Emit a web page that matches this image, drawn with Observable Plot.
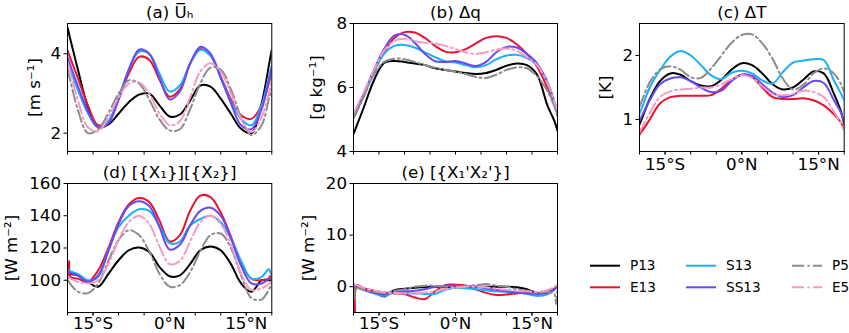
<!DOCTYPE html>
<html><head><meta charset="utf-8">
<script src="https://cdn.jsdelivr.net/npm/d3@7"></script>
<script src="https://cdn.jsdelivr.net/npm/@observablehq/plot@0.6"></script>
<style>
body{margin:0;background:#fff}
#wrap{position:relative;width:849px;height:333px;overflow:hidden;font-family:"DejaVu Sans"}
#wrap svg{position:absolute}
</style>
</head><body><div id="wrap"></div>
<script>
// latitude grid (negative = °S)
const lat = [-20,-19.7,-19.4,-18,-16,-14,-12,-10,-8,-6,-4,-2,0,2,4,6,8,10,12,14,16,18,19.4,19.7,20];
const names = ["P13","E13","S13","SS13","P5","E5"];
const colors = ["#000000","#e8132f","#1ab0f8","#6b48f5","#8c8c8c","#f799c6"];
const dashes = [null,null,null,null,"12,3.5,2,3.5","12,3.5,2,3.5"];
const xTickLabels = ["15°S","0°N","15°N"];
const xTickValues = [-15,0,15];

// (a) mean horizontal wind [m s-1]
const uP13  = [4.66,4.5,4.34,3.62,2.66,2.15,2.22,2.49,2.78,2.97,3.0,2.7,2.42,2.47,2.82,3.2,3.17,2.87,2.49,2.11,2.0,2.75,3.68,3.9,4.1];
const uE13  = [4.08,3.98,3.87,3.4,2.7,2.2,2.3,2.85,3.5,3.92,3.85,3.35,2.92,3.1,3.75,4.12,3.95,3.42,2.85,2.45,2.36,2.7,3.25,3.4,3.55];
const uS13  = [3.75,3.66,3.56,3.1,2.5,2.15,2.3,2.9,3.6,4.05,4.0,3.5,3.05,3.2,3.75,4.1,3.95,3.4,2.8,2.35,2.2,2.7,3.4,3.55,3.7];
const uSS13 = [3.9,3.8,3.69,3.2,2.55,2.15,2.25,2.85,3.6,4.1,4.0,3.4,2.85,3.05,3.75,4.17,4.0,3.4,2.75,2.2,2.1,2.6,3.3,3.48,3.65];
const uP5   = [3.6,3.45,3.3,2.6,2.0,2.1,2.5,3.0,3.33,3.25,2.85,2.35,2.07,2.1,2.6,3.25,3.65,3.6,3.1,2.4,1.95,2.2,2.85,3.0,3.15];
const uE5   = [3.8,3.65,3.5,2.85,2.15,2.05,2.4,2.9,3.25,3.28,3.0,2.5,2.2,2.3,2.9,3.55,3.76,3.55,3.0,2.35,2.03,2.4,3.0,3.15,3.3];

// (b) Δq [g kg-1]
const qP13  = [4.55,4.67,4.79,5.37,6.22,6.77,6.83,6.8,6.75,6.7,6.6,6.55,6.5,6.45,6.42,6.45,6.55,6.68,6.75,6.7,6.4,5.45,4.95,4.8,4.65];
const qE13  = [5.05,5.15,5.26,5.75,6.5,7.1,7.55,7.73,7.72,7.55,7.3,7.12,7.1,7.2,7.38,7.55,7.6,7.55,7.35,7.05,6.65,6.0,5.5,5.4,5.3];
const qS13  = [5.1,5.19,5.28,5.75,6.5,7.05,7.3,7.33,7.25,7.1,6.95,6.82,6.78,6.7,6.63,6.7,6.88,7.0,7.02,6.92,6.7,6.2,5.55,5.4,5.25];
const qSS13 = [5.1,5.2,5.31,5.8,6.55,7.2,7.62,7.65,7.4,7.05,6.82,6.8,6.83,6.75,6.67,6.8,7.1,7.27,7.25,7.05,6.75,6.15,5.5,5.35,5.2];
const qP5   = [5.05,5.14,5.23,5.7,6.4,6.8,6.9,6.88,6.8,6.7,6.62,6.55,6.5,6.42,6.33,6.3,6.4,6.55,6.63,6.6,6.35,5.9,5.4,5.25,5.1];
const qE5   = [5.2,5.29,5.38,5.85,6.55,7.15,7.45,7.52,7.45,7.4,7.38,7.3,7.2,7.1,7.05,7.1,7.18,7.22,7.15,6.95,6.7,6.15,5.55,5.42,5.3];

// (c) ΔT [K]
const tP13  = [0.92,0.98,1.04,1.32,1.6,1.72,1.7,1.6,1.53,1.52,1.62,1.78,1.88,1.85,1.72,1.55,1.47,1.5,1.62,1.75,1.72,1.4,1.12,1.03,0.93];
const tE13  = [0.76,0.8,0.83,1.0,1.25,1.35,1.37,1.37,1.37,1.38,1.48,1.62,1.7,1.66,1.5,1.35,1.32,1.32,1.33,1.3,1.22,1.08,0.95,0.9,0.86];
const tS13  = [1.09,1.15,1.21,1.5,1.77,1.98,2.07,2.0,1.85,1.69,1.63,1.73,1.76,1.72,1.61,1.56,1.74,1.89,1.92,1.94,1.93,1.61,1.4,1.35,1.3];
const tSS13 = [0.98,1.03,1.08,1.3,1.55,1.64,1.66,1.6,1.5,1.43,1.45,1.6,1.7,1.68,1.55,1.42,1.35,1.38,1.5,1.6,1.57,1.3,1.1,1.03,0.96];
const tP5   = [1.2,1.26,1.32,1.58,1.78,1.83,1.78,1.66,1.65,1.8,2.0,2.2,2.32,2.33,2.19,1.95,1.64,1.47,1.54,1.72,1.8,1.72,1.55,1.49,1.43];
const tE5   = [0.8,0.85,0.89,1.1,1.35,1.44,1.47,1.48,1.5,1.5,1.55,1.63,1.69,1.65,1.52,1.4,1.38,1.4,1.45,1.43,1.35,1.12,0.94,0.88,0.83];

// (d) [{X1}][{X2}] [W m-2]
const dP13  = [104,104,103.8,103,99,96,104,112.4,118.6,120.3,117.6,108.3,102.5,103,110,118.6,121,118.6,110,98,92.8,100,100,100,100];
const dE13  = [101,112,102,101,99,106,120,136,147,151,148.5,137,124,128,143,152.5,151.5,142,127,110,101,100,101,102.5,102];
const dS13  = [106,106,105.5,104,100,102,118.6,133,140,144,143,134,123,124,134,138,140,136,126,112,101,102,107,105,103];
const dSS13 = [105,105,104.5,103,99,103,118,135,146,149,146,133,119,122,134,143,145,140,126,109,98,98,100.5,101,101];
const dP5   = [100,99,97.5,93,92,98,112,125,131,128,118,104,96,97,105,118,128,129,120,103,89,88,94,96,98];
const dE5   = [102,101.5,101,99,98,100,110,125,136,140,135,121,110,112,124,136,140,135,122,104,94,95,97.5,98.5,99];

// (e) [{X1'X2'}] [W m-2]
const eP13  = [0,0.1,0,-0.5,-1.0,-1.9,-0.7,-0.4,-0.2,-0.1,0,-0.1,-0.1,-0.1,0,0,0,0,-0.1,-0.5,-1.2,-1.0,-0.4,-0.2,0];
const eE13  = [0.5,-5.5,0.3,-0.3,-0.8,-1.1,-1.3,-1.4,-2.1,-2.4,-0.9,0.3,0.4,0.25,-0.5,-1.2,-1.6,-1.5,-1.3,-1.1,-1.3,-1.2,-0.4,0,0.3];
const eS13  = [0,0,-0.1,-0.6,-1.3,-1.8,-1.1,-1.2,-1.3,-1.4,-1.4,-0.6,-0.2,-0.3,-0.5,-0.7,-0.9,-1.0,-1.1,-1.4,-1.8,-1.5,-0.6,-0.2,0];
const eSS13 = [0.1,0,-0.1,-0.6,-1.2,-1.5,-1.1,-0.9,-0.8,-0.5,0,0.2,0.2,0.1,0,-0.3,-0.6,-0.9,-1.1,-1.3,-1.4,-1.2,-0.5,-0.2,0];
const eP5   = [0,-2.5,-0.3,-0.6,-1.0,-1.2,-0.8,-0.5,0,0.2,0.2,0,0,0.1,0.3,0.5,0.2,0,-0.5,-0.8,-1.2,-1.0,-1.5,-3.4,-0.5];
const eE5   = [0.5,0.4,0.3,-0.2,-0.7,-1.1,-1.2,-1.3,-1.3,-1.1,-0.9,-0.5,-0.2,0,0,-0.1,-0.4,-0.6,-0.8,-0.9,-1.0,-0.7,0,0.2,0.3];

const panels = [
  {title:"(a) U\u0305\u2095", ylabel:"[m s\u207B\u00B9]", domain:[1.54,4.76], ticks:[2,4], xlab:false, pad:3,
   f:{l:66.7,t:23,r:271,b:151}, ydx:-32.7, series:[uP13,uE13,uS13,uSS13,uP5,uE5]},
  {title:"(b) \u0394q", ylabel:"[g kg\u207B\u00B9]", domain:[4,8], ticks:[4,6,8], xlab:false, pad:3,
   f:{l:353.3,t:23,r:557.3,b:151}, ydx:-36.6, series:[qP13,qE13,qS13,qSS13,qP5,qE5]},
  {title:"(c) \u0394T", ylabel:"[K]", domain:[0.5,2.5], ticks:[1,2], xlab:true, pad:3.5,
   f:{l:639.3,t:23,r:844,b:151}, ydx:-33.8, series:[tP13,tE13,tS13,tSS13,tP5,tE5]},
  {title:"(d) [{X\u2081}][{X\u2082}]", ylabel:"[W m\u207B\u00B2]", domain:[80,160], ticks:[100,120,140,160], xlab:true, pad:1.5,
   f:{l:66.7,t:183.3,r:271,b:312.3}, ydx:-55.7, series:[dP13,dE13,dS13,dSS13,dP5,dE5]},
  {title:"(e) [{X\u2081'X\u2082'}]", ylabel:"[W m\u207B\u00B2]", domain:[-5,20], ticks:[0,10,20], xlab:true, pad:1.5,
   f:{l:353.3,t:183.3,r:557.3,b:312.3}, ydx:-44.8, series:[eP13,eE13,eS13,eSS13,eP5,eE5]}
];

const FS = 16.7;
const wrap = document.getElementById("wrap");
const ML = 64, MT = 30, MR = 8, MB = 20;
for (const p of panels) {
  const f = p.f;
  const W = (f.r - f.l) + ML + MR, H = (f.b - f.t) + MT + MB;
  const marks = names.map((n, i) => Plot.line(p.series[i], {
    x: lat, y: p.series[i], stroke: colors[i], strokeWidth: 2,
    strokeDasharray: dashes[i], curve: "catmull-rom", clip: true
  }));
  marks.push(Plot.frame({stroke: "#000", strokeWidth: 1}));
  marks.push(Plot.axisX({ticks: d3.range(-20, 21, 5), tickSize: 3.5, tickFormat: () => "", label: null}));
  if (p.xlab) marks.push(Plot.axisX({ticks: xTickValues, tickSize: 3.5, tickPadding: p.pad,
     tickFormat: d => xTickLabels[xTickValues.indexOf(d)], label: null, fontSize: FS}));
  marks.push(Plot.axisY({ticks: p.ticks, tickSize: 3.5, tickPadding: 3, tickFormat: d => String(d), label: null, fontSize: FS}));
  marks.push(Plot.text([p.title], {frameAnchor: "top", dy: -11, lineAnchor: "middle", textAnchor: "middle", fontSize: FS, fill: "#000"}));
  marks.push(Plot.text([p.ylabel], {frameAnchor: "left", dx: p.ydx, rotate: -90, lineAnchor: "middle", textAnchor: "middle", fontSize: FS, fill: "#000"}));
  const chart = Plot.plot({
    width: W, height: H, marginLeft: ML, marginRight: MR, marginTop: MT, marginBottom: MB,
    style: {fontFamily: "DejaVu Sans", fontSize: FS + "px", background: "transparent", overflow: "visible", color: "#000"},
    x: {domain: [-20, 20]},
    y: {domain: p.domain},
    marks
  });
  chart.style.left = (f.l - ML) + "px";
  chart.style.top = (f.t - MT) + "px";
  wrap.appendChild(chart);
}

// legend
const legPos = [
  {x:590, y:265.7}, {x:590, y:287.3},
  {x:686, y:265.7}, {x:686, y:287.3},
  {x:792, y:265.7}, {x:792, y:287.3}
];
const leg = d3.select(wrap).append("svg").attr("width", 849).attr("height", 333)
  .style("left", "0px").style("top", "0px");
names.forEach((n, i) => {
  const p = legPos[i];
  leg.append("line").attr("x1", p.x).attr("x2", p.x + 30).attr("y1", p.y).attr("y2", p.y)
    .attr("stroke", colors[i]).attr("stroke-width", 2).attr("stroke-dasharray", dashes[i]);
  leg.append("text").attr("x", p.x + 40).attr("y", p.y).attr("dy", "0.35em")
    .attr("font-family", "DejaVu Sans").attr("font-size", 13.6).attr("fill", "#000").text(n);
});
</script>
</body></html>
